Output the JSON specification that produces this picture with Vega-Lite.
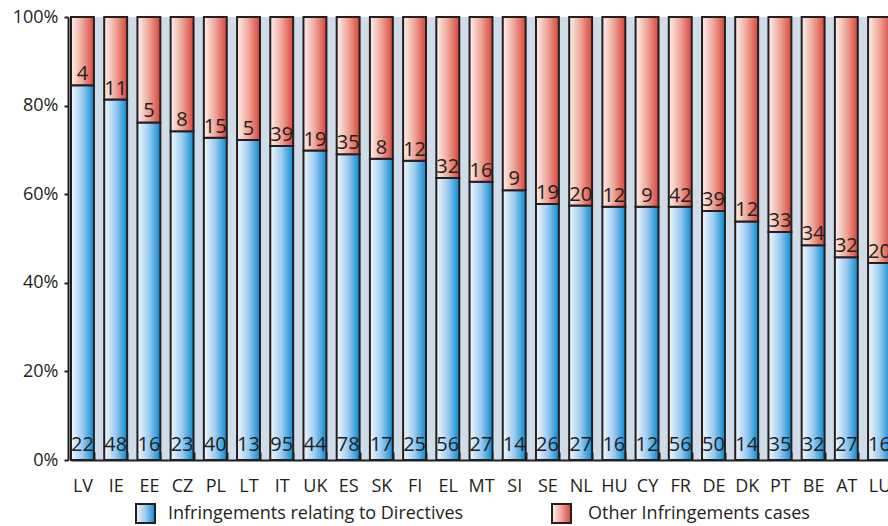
{
  "$schema": "https://vega.github.io/schema/vega-lite/v6.json",
  "width": 820,
  "height": 443,
  "autosize": {"type": "none"},
  "padding": {"left": 68, "top": 17, "right": 0, "bottom": 66},
  "background": "white",
  "config": {
    "view": {"fill": "#d0dde8", "stroke": null},
    "font": "Open Sans",
    "text": {"font": "Open Sans"},
    "legend": {
      "title": null,
      "orient": "none",
      "direction": "horizontal",
      "symbolType": "square",
      "symbolSize": 361,
      "symbolStrokeWidth": 2,
      "labelFontSize": 18,
      "labelColor": "#231f20",
      "labelOffset": 12,
      "labelLimit": 500
    }
  },
  "data": {
    "values": [
      {"country": "LV", "series": "Infringements relating to Directives", "count": 22},
      {"country": "LV", "series": "Other Infringements cases", "count": 4},
      {"country": "IE", "series": "Infringements relating to Directives", "count": 48},
      {"country": "IE", "series": "Other Infringements cases", "count": 11},
      {"country": "EE", "series": "Infringements relating to Directives", "count": 16},
      {"country": "EE", "series": "Other Infringements cases", "count": 5},
      {"country": "CZ", "series": "Infringements relating to Directives", "count": 23},
      {"country": "CZ", "series": "Other Infringements cases", "count": 8},
      {"country": "PL", "series": "Infringements relating to Directives", "count": 40},
      {"country": "PL", "series": "Other Infringements cases", "count": 15},
      {"country": "LT", "series": "Infringements relating to Directives", "count": 13},
      {"country": "LT", "series": "Other Infringements cases", "count": 5},
      {"country": "IT", "series": "Infringements relating to Directives", "count": 95},
      {"country": "IT", "series": "Other Infringements cases", "count": 39},
      {"country": "UK", "series": "Infringements relating to Directives", "count": 44},
      {"country": "UK", "series": "Other Infringements cases", "count": 19},
      {"country": "ES", "series": "Infringements relating to Directives", "count": 78},
      {"country": "ES", "series": "Other Infringements cases", "count": 35},
      {"country": "SK", "series": "Infringements relating to Directives", "count": 17},
      {"country": "SK", "series": "Other Infringements cases", "count": 8},
      {"country": "FI", "series": "Infringements relating to Directives", "count": 25},
      {"country": "FI", "series": "Other Infringements cases", "count": 12},
      {"country": "EL", "series": "Infringements relating to Directives", "count": 56},
      {"country": "EL", "series": "Other Infringements cases", "count": 32},
      {"country": "MT", "series": "Infringements relating to Directives", "count": 27},
      {"country": "MT", "series": "Other Infringements cases", "count": 16},
      {"country": "SI", "series": "Infringements relating to Directives", "count": 14},
      {"country": "SI", "series": "Other Infringements cases", "count": 9},
      {"country": "SE", "series": "Infringements relating to Directives", "count": 26},
      {"country": "SE", "series": "Other Infringements cases", "count": 19},
      {"country": "NL", "series": "Infringements relating to Directives", "count": 27},
      {"country": "NL", "series": "Other Infringements cases", "count": 20},
      {"country": "HU", "series": "Infringements relating to Directives", "count": 16},
      {"country": "HU", "series": "Other Infringements cases", "count": 12},
      {"country": "CY", "series": "Infringements relating to Directives", "count": 12},
      {"country": "CY", "series": "Other Infringements cases", "count": 9},
      {"country": "FR", "series": "Infringements relating to Directives", "count": 56},
      {"country": "FR", "series": "Other Infringements cases", "count": 42},
      {"country": "DE", "series": "Infringements relating to Directives", "count": 50},
      {"country": "DE", "series": "Other Infringements cases", "count": 39},
      {"country": "DK", "series": "Infringements relating to Directives", "count": 14},
      {"country": "DK", "series": "Other Infringements cases", "count": 12},
      {"country": "PT", "series": "Infringements relating to Directives", "count": 35},
      {"country": "PT", "series": "Other Infringements cases", "count": 33},
      {"country": "BE", "series": "Infringements relating to Directives", "count": 32},
      {"country": "BE", "series": "Other Infringements cases", "count": 34},
      {"country": "AT", "series": "Infringements relating to Directives", "count": 27},
      {"country": "AT", "series": "Other Infringements cases", "count": 32},
      {"country": "LU", "series": "Infringements relating to Directives", "count": 16},
      {"country": "LU", "series": "Other Infringements cases", "count": 20}
    ]
  },
  "transform": [
    {
      "stack": "count",
      "groupby": ["country"],
      "sort": [{"field": "series", "order": "ascending"}],
      "offset": "normalize",
      "as": ["y0", "y1"]
    }
  ],
  "encoding": {
    "x": {
      "field": "country",
      "type": "nominal",
      "sort": null,
      "scale": {"range": [3, 823], "paddingInner": 0.31, "paddingOuter": 0},
      "axis": {
        "title": null,
        "labelAngle": 0,
        "labelFontSize": 18,
        "labelColor": "#231f20",
        "labelPadding": 25,
        "domainColor": "#231f20",
        "domainWidth": 2,
        "tickColor": "#231f20",
        "tickWidth": 2,
        "tickSize": -8,
        "tickBand": "extent",
        "grid": false
      }
    },
    "y": {
      "field": "y0",
      "type": "quantitative",
      "scale": {"domain": [0, 1]},
      "axis": {
        "title": null,
        "format": ".0%",
        "values": [0, 0.2, 0.4, 0.6, 0.8, 1],
        "grid": false,
        "labelFontSize": 18,
        "labelColor": "#231f20",
        "labelPadding": 6,
        "tickSize": 4,
        "tickWidth": 2,
        "tickColor": "#231f20",
        "domainColor": "#231f20",
        "domainWidth": 2
      }
    }
  },
  "resolve": {"scale": {"stroke": "independent"}, "legend": {"stroke": "independent"}},
  "layer": [
    {
      "transform": [{"filter": "datum.series == 'Infringements relating to Directives'"}],
      "mark": {
        "type": "bar",
        "strokeWidth": 2,
        "fill": {"gradient": "linear", "x1": 0, "y1": 0, "x2": 1, "y2": 0, "stops": [{"offset": 0, "color": "#f2f8fd"}, {"offset": 0.5, "color": "#9ccbf0"}, {"offset": 1, "color": "#0a8bd4"}]}
      },
      "encoding": {
        "y2": {"field": "y1"},
        "stroke": {
          "field": "series",
          "type": "nominal",
          "scale": {"range": ["#231f20"]},
          "legend": {"legendX": 67, "legendY": 486}
        }
      }
    },
    {
      "transform": [{"filter": "datum.series == 'Other Infringements cases'"}],
      "mark": {
        "type": "bar",
        "strokeWidth": 2,
        "fill": {"gradient": "linear", "x1": 0, "y1": 0, "x2": 1, "y2": 0, "stops": [{"offset": 0, "color": "#fdf1ed"}, {"offset": 0.5, "color": "#eea598"}, {"offset": 1, "color": "#d8453a"}]}
      },
      "encoding": {
        "y2": {"field": "y1"},
        "stroke": {
          "field": "series",
          "type": "nominal",
          "scale": {"range": ["#231f20"]},
          "legend": {"legendX": 483, "legendY": 486, "labelOffset": 16}
        }
      }
    },
    {
      "transform": [{"filter": "datum.series == 'Infringements relating to Directives'"}],
      "mark": {"type": "text", "baseline": "alphabetic", "dy": -9, "fontSize": 20, "color": "#231f20"},
      "encoding": {
        "text": {"field": "count", "type": "quantitative"}
      }
    },
    {
      "transform": [{"filter": "datum.series == 'Other Infringements cases'"}],
      "mark": {"type": "text", "baseline": "alphabetic", "dy": -5, "fontSize": 20, "color": "#231f20"},
      "encoding": {
        "text": {"field": "count", "type": "quantitative"}
      }
    }
  ]
}
